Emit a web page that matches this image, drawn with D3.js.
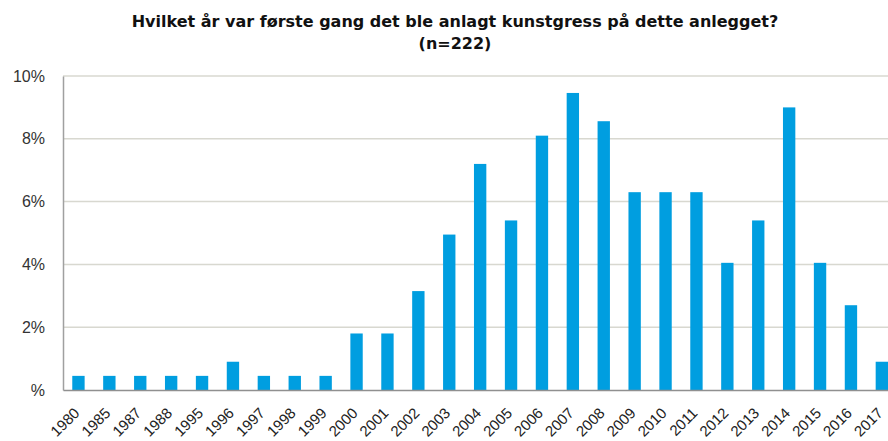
<!DOCTYPE html>
<html>
<head>
<meta charset="utf-8">
<script src="https://cdn.jsdelivr.net/npm/d3@7"></script>
<style>
body { margin: 0; background: #fff; }
svg { display: block; }
</style>
</head>
<body>
<div id="chart"></div>
<script>
// år og andel (%) av svarene, n=222
const years = ["1980","1985","1987","1988","1995","1996","1997","1998","1999",
  "2000","2001","2002","2003","2004","2005","2006","2007","2008","2009",
  "2010","2011","2012","2013","2014","2015","2016","2017"];
const shares = [0.45,0.45,0.45,0.45,0.45,0.9,0.45,0.45,0.45,
  1.8,1.8,3.15,4.95,7.2,5.4,8.1,9.46,8.56,6.3,
  6.3,6.3,4.05,5.4,9.0,4.05,2.7,0.9];
const yTicks = [0,2,4,6,8,10];
const titleLines = ["Hvilket år var første gang det ble anlagt kunstgress på dette anlegget?", "(n=222)"];

var data = years.map(function (y, i) { return { year: y, value: shares[i] }; });

var W = 888, H = 441;
var margin = { top: 76, left: 63, bottom: 51 };
var plotW = 27 * 30.9;
var plotH = H - margin.top - margin.bottom;

var svg = d3.select("#chart").append("svg")
  .attr("width", W).attr("height", H)
  .style("font-family", "'DejaVu Sans', Verdana, sans-serif");

svg.selectAll(".title").data(titleLines).enter()
  .append("text")
  .attr("x", 455)
  .attr("y", function (d, i) { return 27 + i * 22; })
  .attr("text-anchor", "middle")
  .style("font-size", "16px")
  .style("font-weight", "bold")
  .attr("fill", "#111")
  .text(function (d) { return d; });

var g = svg.append("g")
  .attr("transform", "translate(" + margin.left + "," + margin.top + ")");

var x = d3.scaleBand().domain(years).range([0, plotW]).paddingInner(0.6).paddingOuter(0.3);
var y = d3.scaleLinear().domain([0, 10]).range([plotH, 0]);

// gridlines
g.selectAll(".grid").data(yTicks.filter(function (t) { return t > 0; })).enter()
  .append("line")
  .attr("x1", 0).attr("x2", plotW)
  .attr("y1", function (d) { return y(d); })
  .attr("y2", function (d) { return y(d); })
  .attr("stroke", "#d8d8d0").attr("stroke-width", 1.5);

// y axis
var yAxis = g.append("g")
  .call(d3.axisLeft(y).tickValues(yTicks).tickSize(0).tickPadding(18)
    .tickFormat(function (d) { return d === 0 ? "%" : d + "%"; }));
yAxis.select(".domain").attr("stroke", "#a0a0a0").attr("stroke-width", 1.5);
yAxis.selectAll("text").style("font-size", "16px").attr("fill", "#333");

// bars
g.selectAll(".bar").data(data).enter()
  .append("rect")
  .attr("x", function (d) { return x(d.year); })
  .attr("y", function (d) { return y(d.value); })
  .attr("width", x.bandwidth())
  .attr("height", function (d) { return plotH - y(d.value); })
  .attr("fill", "#009ee0");

// x axis
var xAxis = g.append("g")
  .attr("transform", "translate(0," + plotH + ")")
  .call(d3.axisBottom(x).tickSize(0).tickPadding(6));
xAxis.select(".domain").attr("stroke", "#909090").attr("stroke-width", 1.5);
xAxis.selectAll("text")
  .style("font-size", "15px")
  .attr("fill", "#222")
  .style("text-anchor", "end")
  .attr("x", 0).attr("y", 0).attr("dy", 0)
  .attr("transform", "translate(2,24) rotate(-45)");
</script>
</body>
</html>
